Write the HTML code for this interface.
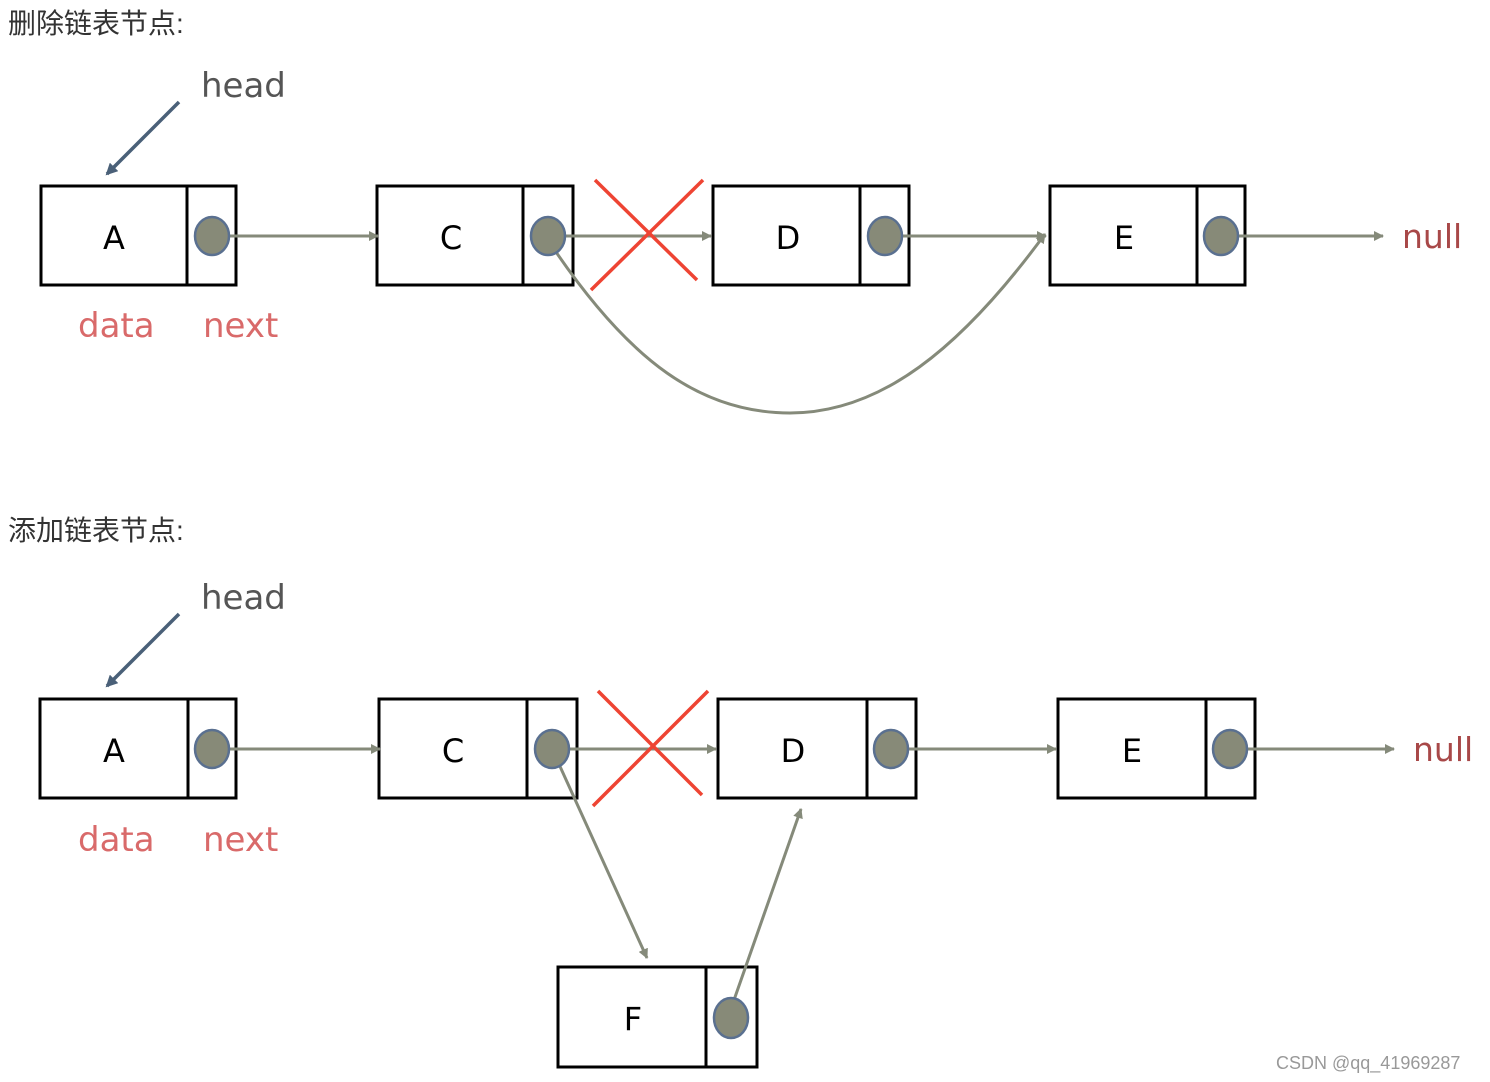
<!DOCTYPE html>
<html><head><meta charset="utf-8"><style>
html,body{margin:0;padding:0;background:#fff;width:1490px;height:1082px;overflow:hidden}
svg{display:block}
.t{font-family:"Liberation Sans","Noto Sans CJK SC",sans-serif;font-size:28px;fill:#333}
.h{font-family:"DejaVu Sans","Liberation Sans",sans-serif;font-size:34px;fill:#555}
.r{font-family:"DejaVu Sans","Liberation Sans",sans-serif;font-size:34px;fill:#d96a6a}
.n{font-family:"DejaVu Sans","Liberation Sans",sans-serif;font-size:33px;fill:#a84848}
.l{font-family:"DejaVu Sans","Liberation Sans",sans-serif;font-size:32px;fill:#000;text-anchor:middle}
</style></head><body>
<svg width="1490" height="1082" viewBox="0 0 1490 1082" xmlns="http://www.w3.org/2000/svg">
<defs>
<marker id="g" markerWidth="10" markerHeight="10" refX="9" refY="5" orient="auto" markerUnits="userSpaceOnUse" viewBox="0 0 10 10"><path d="M0,0 L10,5 L0,10 z" fill="#858a7a"/></marker>
<marker id="b" markerWidth="12" markerHeight="12" refX="10" refY="6" orient="auto" markerUnits="userSpaceOnUse" viewBox="0 0 12 12"><path d="M0,0 L12,6 L0,12 z" fill="#4a6078"/></marker>
</defs>
<g transform="scale(1)">
<text class="t" x="8" y="33">删除链表节点:</text>
<text class="t" x="8" y="540">添加链表节点:</text>

<!-- top -->
<text class="h" x="201" y="97">head</text>
<line x1="179" y1="102" x2="107" y2="174" stroke="#4a6078" stroke-width="3.5" marker-end="url(#b)"/>
<g fill="#fff" stroke="#000" stroke-width="3">
<rect x="41" y="186" width="195" height="99"/><line x1="187" y1="186" x2="187" y2="285"/>
<rect x="377" y="186" width="196" height="99"/><line x1="523" y1="186" x2="523" y2="285"/>
<rect x="713" y="186" width="196" height="99"/><line x1="860" y1="186" x2="860" y2="285"/>
<rect x="1050" y="186" width="195" height="99"/><line x1="1197" y1="186" x2="1197" y2="285"/>
</g>
<text class="l" x="114" y="249">A</text><text class="l" x="451" y="249">C</text><text class="l" x="788" y="249">D</text><text class="l" x="1124" y="249">E</text>
<text class="r" x="78" y="337">data</text><text class="r" x="203" y="337">next</text>
<text class="n" x="1402" y="248">null</text>
<g stroke="#858a7a" stroke-width="3" fill="none">
<line x1="212" y1="236" x2="378" y2="236" marker-end="url(#g)"/>
<line x1="548" y1="236" x2="711" y2="236" marker-end="url(#g)"/>
<line x1="885" y1="236" x2="1046" y2="236" marker-end="url(#g)"/>
<line x1="1221" y1="236" x2="1383" y2="236" marker-end="url(#g)"/>
<path d="M556,252 C630,360 700,413 790,413 C880,413 960,350 1045,234" marker-end="url(#g)"/>
</g>
<g fill="#878a78" stroke="#5a7090" stroke-width="2.5">
<ellipse cx="212" cy="236" rx="17" ry="19"/><ellipse cx="548" cy="236" rx="17" ry="19"/>
<ellipse cx="885" cy="236" rx="17" ry="19"/><ellipse cx="1221" cy="236" rx="17" ry="19"/>
</g>
<g stroke="#ee4433" stroke-width="3.5">
<line x1="595" y1="180" x2="697" y2="280"/><line x1="703" y1="180" x2="591" y2="290"/>
</g>

<!-- bottom -->
<text class="h" x="201" y="609">head</text>
<line x1="179" y1="614" x2="107" y2="686" stroke="#4a6078" stroke-width="3.5" marker-end="url(#b)"/>
<g fill="#fff" stroke="#000" stroke-width="3">
<rect x="40" y="699" width="196" height="99"/><line x1="188" y1="699" x2="188" y2="798"/>
<rect x="379" y="699" width="198" height="99"/><line x1="527" y1="699" x2="527" y2="798"/>
<rect x="718" y="699" width="198" height="99"/><line x1="867" y1="699" x2="867" y2="798"/>
<rect x="1058" y="699" width="197" height="99"/><line x1="1206" y1="699" x2="1206" y2="798"/>
<rect x="558" y="967" width="199" height="100"/><line x1="706" y1="967" x2="706" y2="1067"/>
</g>
<text class="l" x="114" y="762">A</text><text class="l" x="453" y="762">C</text><text class="l" x="793" y="762">D</text><text class="l" x="1132" y="762">E</text><text class="l" x="633" y="1030">F</text>
<text class="r" x="78" y="851">data</text><text class="r" x="203" y="851">next</text>
<text class="n" x="1413" y="761">null</text>
<g stroke="#858a7a" stroke-width="3" fill="none">
<line x1="212" y1="749" x2="380" y2="749" marker-end="url(#g)"/>
<line x1="552" y1="749" x2="716" y2="749" marker-end="url(#g)"/>
<line x1="891" y1="749" x2="1056" y2="749" marker-end="url(#g)"/>
<line x1="1230" y1="749" x2="1394" y2="749" marker-end="url(#g)"/>
<line x1="558" y1="762" x2="647" y2="958" marker-end="url(#g)"/>
<line x1="734" y1="1000" x2="801" y2="809" marker-end="url(#g)"/>
</g>
<g fill="#878a78" stroke="#5a7090" stroke-width="2.5">
<ellipse cx="212" cy="749" rx="17" ry="19"/><ellipse cx="552" cy="749" rx="17" ry="19"/>
<ellipse cx="891" cy="749" rx="17" ry="19"/><ellipse cx="1230" cy="749" rx="17" ry="19"/>
<ellipse cx="731" cy="1018" rx="17" ry="20"/>
</g>
<g stroke="#ee4433" stroke-width="3.5">
<line x1="598" y1="691" x2="702" y2="795"/><line x1="708" y1="691" x2="593" y2="806"/>
</g>
<text x="1276" y="1069" font-family="Liberation Sans,sans-serif" font-size="18" fill="#999">CSDN @qq_41969287</text>
</g>
</svg>
</body></html>
